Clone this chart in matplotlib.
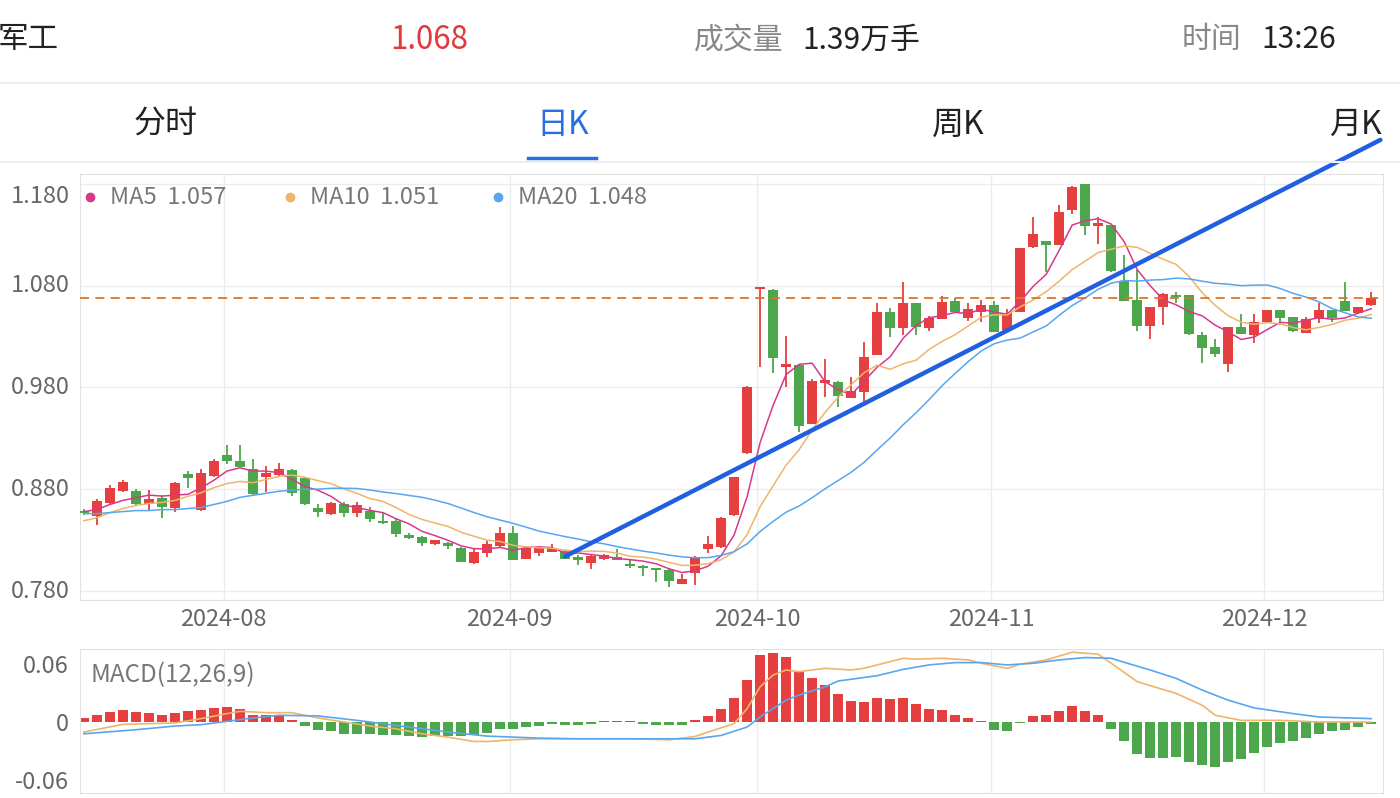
import matplotlib
matplotlib.use('Agg')
import matplotlib.pyplot as plt
import numpy as np
import pandas as pd

plt.rcParams['font.family'] = ['Noto Sans CJK SC', 'DejaVu Sans']

# daily candles 2024-07-17 .. 2024-12-12 (one per trading day)
opens = [0.859, 0.854, 0.866, 0.878, 0.878, 0.865, 0.871, 0.862, 0.895, 0.860,
         0.893, 0.914, 0.908, 0.900, 0.892, 0.894, 0.899, 0.891, 0.862, 0.856,
         0.865, 0.857, 0.859, 0.848, 0.849, 0.835, 0.833, 0.826, 0.827, 0.822,
         0.808, 0.817, 0.824, 0.837, 0.811, 0.817, 0.818, 0.819, 0.813, 0.808,
         0.811, 0.813, 0.807, 0.805, 0.803, 0.801, 0.787, 0.798, 0.821, 0.823,
         0.855, 0.916, 1.077, 1.076, 1.000, 1.002, 0.944, 0.984, 0.985, 0.970,
         0.975, 1.012, 1.054, 1.038, 1.063, 1.038, 1.047, 1.065, 1.048, 1.054,
         1.061, 1.036, 1.054, 1.118, 1.124, 1.120, 1.154, 1.180, 1.138, 1.139,
         1.084, 1.066, 1.040, 1.059, 1.071, 1.071, 1.031, 1.020, 1.003, 1.039,
         1.031, 1.044, 1.056, 1.049, 1.033, 1.047, 1.056, 1.065, 1.053, 1.061]
highs = [0.861, 0.870, 0.884, 0.889, 0.880, 0.879, 0.874, 0.887, 0.898, 0.900,
         0.910, 0.923, 0.923, 0.910, 0.903, 0.906, 0.900, 0.891, 0.865, 0.867,
         0.867, 0.867, 0.863, 0.857, 0.851, 0.837, 0.834, 0.830, 0.828, 0.823,
         0.822, 0.829, 0.843, 0.844, 0.822, 0.824, 0.826, 0.820, 0.815, 0.815,
         0.816, 0.821, 0.810, 0.806, 0.803, 0.803, 0.797, 0.814, 0.834, 0.853,
         0.892, 0.981, 1.079, 1.077, 1.030, 1.002, 0.988, 1.008, 0.986, 0.990,
         1.025, 1.063, 1.058, 1.083, 1.063, 1.050, 1.070, 1.068, 1.063, 1.066,
         1.065, 1.057, 1.117, 1.147, 1.124, 1.159, 1.178, 1.180, 1.147, 1.139,
         1.110, 1.095, 1.059, 1.073, 1.074, 1.071, 1.034, 1.027, 1.039, 1.052,
         1.052, 1.056, 1.056, 1.049, 1.049, 1.063, 1.056, 1.083, 1.059, 1.074]
lows = [0.855, 0.845, 0.865, 0.877, 0.864, 0.860, 0.852, 0.858, 0.881, 0.859,
        0.892, 0.905, 0.902, 0.874, 0.877, 0.893, 0.873, 0.864, 0.853, 0.855,
        0.853, 0.853, 0.848, 0.846, 0.833, 0.831, 0.824, 0.825, 0.821, 0.809,
        0.807, 0.813, 0.823, 0.810, 0.811, 0.814, 0.818, 0.811, 0.806, 0.802,
        0.810, 0.810, 0.803, 0.795, 0.789, 0.784, 0.787, 0.786, 0.817, 0.822,
        0.854, 0.915, 1.000, 0.994, 0.980, 0.936, 0.944, 0.971, 0.961, 0.970,
        0.962, 1.012, 1.029, 1.031, 1.031, 1.035, 1.047, 1.054, 1.045, 1.044,
        1.034, 1.036, 1.054, 1.117, 1.093, 1.120, 1.150, 1.130, 1.121, 1.093,
        1.065, 1.035, 1.027, 1.041, 1.063, 1.031, 1.004, 1.010, 0.995, 1.032,
        1.024, 1.044, 1.041, 1.034, 1.033, 1.043, 1.044, 1.055, 1.052, 1.060]
closes = [0.857, 0.868, 0.881, 0.887, 0.865, 0.870, 0.863, 0.886, 0.891, 0.896,
          0.908, 0.908, 0.902, 0.875, 0.896, 0.900, 0.876, 0.865, 0.858, 0.866,
          0.857, 0.864, 0.851, 0.847, 0.836, 0.832, 0.827, 0.830, 0.824, 0.809,
          0.818, 0.826, 0.837, 0.810, 0.822, 0.822, 0.822, 0.811, 0.810, 0.814,
          0.815, 0.810, 0.805, 0.803, 0.801, 0.790, 0.792, 0.813, 0.826, 0.852,
          0.892, 0.980, 1.079, 1.009, 1.003, 0.942, 0.986, 0.987, 0.972, 0.976,
          1.010, 1.054, 1.038, 1.063, 1.039, 1.048, 1.064, 1.054, 1.057, 1.061,
          1.034, 1.053, 1.117, 1.131, 1.120, 1.152, 1.177, 1.138, 1.141, 1.094,
          1.065, 1.040, 1.059, 1.072, 1.069, 1.032, 1.019, 1.013, 1.039, 1.032,
          1.044, 1.056, 1.048, 1.035, 1.047, 1.056, 1.048, 1.055, 1.059, 1.068]

month_labels = ['2024-08', '2024-09', '2024-10', '2024-11', '2024-12']
month_start = [11, 33, 52, 70, 91]

# moving averages before the window is full
ma5_head = [0.858, 0.860, 0.865, 0.869]
ma10_head = [0.849, 0.852, 0.857, 0.861, 0.864, 0.866, 0.867, 0.869, 0.873]
ma20_head = [0.856, 0.856, 0.857, 0.858, 0.859, 0.859, 0.860, 0.860, 0.861, 0.862,
             0.865, 0.868, 0.872, 0.874, 0.876, 0.878, 0.879, 0.880, 0.880]
ma_names = ['MA5', 'MA10', 'MA20']
ma_last = [1.057, 1.051, 1.048]

macd_hist = [0.0042, 0.007, 0.0104, 0.0129, 0.0104, 0.0094, 0.007, 0.0094, 0.0115, 0.0129,
             0.0146, 0.0157, 0.0139, 0.0077, 0.007, 0.007, 0.0017, -0.0045, -0.0087, -0.0097,
             -0.0122, -0.0122, -0.0122, -0.0132, -0.0139, -0.015, -0.0157, -0.015, -0.015, -0.015,
             -0.0132, -0.0115, -0.007, -0.007, -0.0056, -0.0042, -0.0024, -0.0028, -0.0028, -0.0024,
             0.0007, 0.0007, 0.0007, -0.0024, -0.0028, -0.0035, -0.0035, 0.0017, 0.0063, 0.0139,
             0.0244, 0.0435, 0.0696, 0.072, 0.0672, 0.0515, 0.0452, 0.0383, 0.0289, 0.0219,
             0.0209, 0.0254, 0.0237, 0.0244, 0.0184, 0.0139, 0.0122, 0.0077, 0.0042, 0.001,
             -0.008, -0.0097, -0.001, 0.0063, 0.0077, 0.0115, 0.0167, 0.0115, 0.007, -0.007,
             -0.0202, -0.0331, -0.0372, -0.0372, -0.0358, -0.0411, -0.0442, -0.0463, -0.0411, -0.0383,
             -0.032, -0.0254, -0.0216, -0.0198, -0.0164, -0.0122, -0.0097, -0.008, -0.0052, -0.0017]

dif_idx = [0, 3, 7, 9, 11, 12, 14, 16, 18, 20, 22, 24, 26, 28, 30, 31, 33, 35, 38, 42, 45,
           47, 48, 50, 51, 52, 53, 54, 55, 56, 57, 59, 60, 62, 63, 64, 66, 68, 69, 71, 72,
           74, 76, 78, 79, 81, 84, 86, 87, 89, 92, 95, 99]
dif_val = [-0.0104, -0.0024, -0.001, 0.0035, 0.0087, 0.0111, 0.0097, 0.0097, 0.0042, 0.0,
           -0.0042, -0.007, -0.0122, -0.0157, -0.0202, -0.0202, -0.0184, -0.0174, -0.0174, -0.0174,
           -0.0184, -0.015, -0.0104, -0.0017, 0.0139, 0.0365, 0.0487, 0.0539, 0.0522, 0.0539,
           0.0557, 0.0539, 0.0557, 0.0626, 0.0661, 0.0651, 0.0661, 0.0644, 0.0609, 0.0557,
           0.0599, 0.0644, 0.0724, 0.0703, 0.0609, 0.0418, 0.0296, 0.0174, 0.007, 0.0017,
           0.0017, 0.0, 0.0]
dea_idx = [0, 4, 7, 9, 11, 13, 15, 18, 21, 24, 28, 31, 35, 38, 42, 45, 47, 49, 51, 52, 53,
           54, 55, 57, 58, 61, 63, 65, 67, 69, 71, 73, 75, 77, 79, 80, 82, 84, 86, 88, 90,
           93, 95, 99]
dea_val = [-0.0122, -0.008, -0.0042, -0.0028, 0.0007, 0.0042, 0.007, 0.0063, 0.0017, -0.0035,
           -0.0104, -0.0146, -0.0167, -0.0174, -0.0174, -0.0174, -0.0174, -0.0139, -0.0052, 0.0052,
           0.0139, 0.0226, 0.028, 0.0365, 0.0425, 0.048, 0.0546, 0.0592, 0.0616, 0.0616,
           0.0592, 0.0609, 0.0644, 0.0668, 0.0661, 0.0619, 0.0539, 0.0452, 0.0331, 0.0226,
           0.0146, 0.0087, 0.0052, 0.0035]

last_price = 1.068
trend_idx = [37, 99.7]
trend_price = [0.814, 1.223]

RED = '#e5403f'
GREEN = '#4ca64c'
GRID = '#ececec'
MA_COLORS = ['#d8388c', '#f0b46a', '#58a6ef']
W, H = 1400, 798

o = np.array(opens); hi = np.array(highs); lo = np.array(lows); c = np.array(closes)
x = np.arange(len(c))

ma5 = pd.Series(c).rolling(5).mean().to_numpy()
ma10 = pd.Series(c).rolling(10).mean().to_numpy()
ma20 = pd.Series(c).rolling(20).mean().to_numpy()
ma5[:4] = ma5_head
ma10[:9] = ma10_head
ma20[:19] = ma20_head

fig = plt.figure(figsize=(W / 100, H / 100), dpi=100)


def ftext(px, py, s, **kw):
    fig.text(px / W, 1 - py / H, s, va='center', **kw)


def hline(y, x0, x1, color, lw):
    fig.add_artist(plt.Line2D([x0 / W, x1 / W], [1 - y / H, 1 - y / H],
                              color=color, lw=lw, transform=fig.transFigure))


# header
ftext(59, 40, '军工', ha='right', fontsize=22, color='#222222')
ftext(390, 40, '1.068', fontsize=22.5, color='#e0393e')
ftext(694, 40, '成交量', fontsize=21.5, color='#888888')
ftext(802, 40, '1.39万手', fontsize=21.5, color='#222222')
ftext(1182, 40, '时间', fontsize=21.5, color='#888888')
ftext(1261, 40, '13:26', fontsize=21.5, color='#222222')
hline(83, 0, W, '#eeeeee', 1.5)
ftext(166, 125, '分时', ha='center', fontsize=23, color='#222222')
ftext(563, 125, '日K', ha='center', fontsize=23, color='#2a6fe0')
ftext(958, 125, '周K', ha='center', fontsize=23, color='#222222')
ftext(1355, 125, '月K', ha='center', fontsize=23, color='#222222')
hline(158, 528, 596, '#2a6fe0', 2.5)
hline(162, 0, W, '#eeeeee', 1.5)

# main candle panel
ax = fig.add_axes([80 / W, 1 - 600 / H, 1303 / W, 426 / H])
ax.set_xlim(-0.3, 99.9)
ax.set_ylim(0.7712, 1.1895)
col = np.where(c >= o, RED, GREEN)
ax.vlines(x, lo, hi, colors=col, lw=1.3, zorder=2)
body = np.maximum(np.abs(c - o), 0.0015)
ax.bar(x, body, bottom=np.minimum(o, c), width=0.74, color=col, zorder=3)
for ma, colr in zip([ma5, ma10, ma20], MA_COLORS):
    ax.plot(x, ma, color=colr, lw=1.1, zorder=4)
ax.axhline(last_price, color='#dd7524', lw=1.3, ls=(0, (5, 3.5)), zorder=5)
ax.plot(trend_idx, trend_price, color='#1f5fe0', lw=3.2, solid_capstyle='round',
        clip_on=False, zorder=6)

yt = [0.78, 0.88, 0.98, 1.08, 1.18]
ax.set_yticks(yt)
ax.set_yticklabels([])
for v in yt:
    yy = v - 0.013 if v > 1.1 else v
    ax.text(-0.008, yy, '%.3f' % v, transform=ax.get_yaxis_transform(),
            ha='right', va='center', fontsize=17, color='#666666')
gx = [m - 0.25 for m in month_start]
ax.set_xticks(gx)
ax.set_xticklabels(month_labels, fontsize=17, color='#666666')
ax.tick_params(length=0, pad=6)
ax.grid(True, color=GRID, lw=1)
ax.set_axisbelow(True)
for s in ax.spines.values():
    s.set_color('#e2e2e2')

# legend
for px, name, val, colr in zip([90, 290, 498], ma_names, ma_last, MA_COLORS):
    fig.add_artist(plt.Line2D([px / W], [1 - 197 / H], marker='o', ms=6,
                              color=colr, transform=fig.transFigure))
    ftext(px + 20, 197, '%s  %.3f' % (name, val), fontsize=17, color='#777777')

# MACD panel
bx = fig.add_axes([80 / W, 5 / H, 1303 / W, 144 / H])
bx.set_xlim(-0.3, 99.9)
bx.set_ylim(-0.0736, 0.0757)
hist = np.array(macd_hist)
bx.bar(x, hist, width=0.74, color=np.where(hist >= 0, RED, GREEN), zorder=2)
bx.plot(dif_idx, dif_val, color='#f0b46a', lw=1.2, zorder=3)
bx.plot(dea_idx, dea_val, color='#58a6ef', lw=1.2, zorder=3)
bx.set_yticks([0.06, 0, -0.06])
bx.set_yticklabels(['0.06', '0', '-0.06'], fontsize=17, color='#666666')
bx.set_xticks(gx)
bx.set_xticklabels([])
bx.tick_params(length=0, pad=8)
bx.grid(True, axis='x', color=GRID, lw=1)
bx.set_axisbelow(True)
for s in bx.spines.values():
    s.set_color('#e2e2e2')
bx.text(0.008, 0.82, 'MACD(12,26,9)', transform=bx.transAxes, fontsize=17.5,
        color='#777777', va='center')

fig.savefig('out.png', dpi=100)
